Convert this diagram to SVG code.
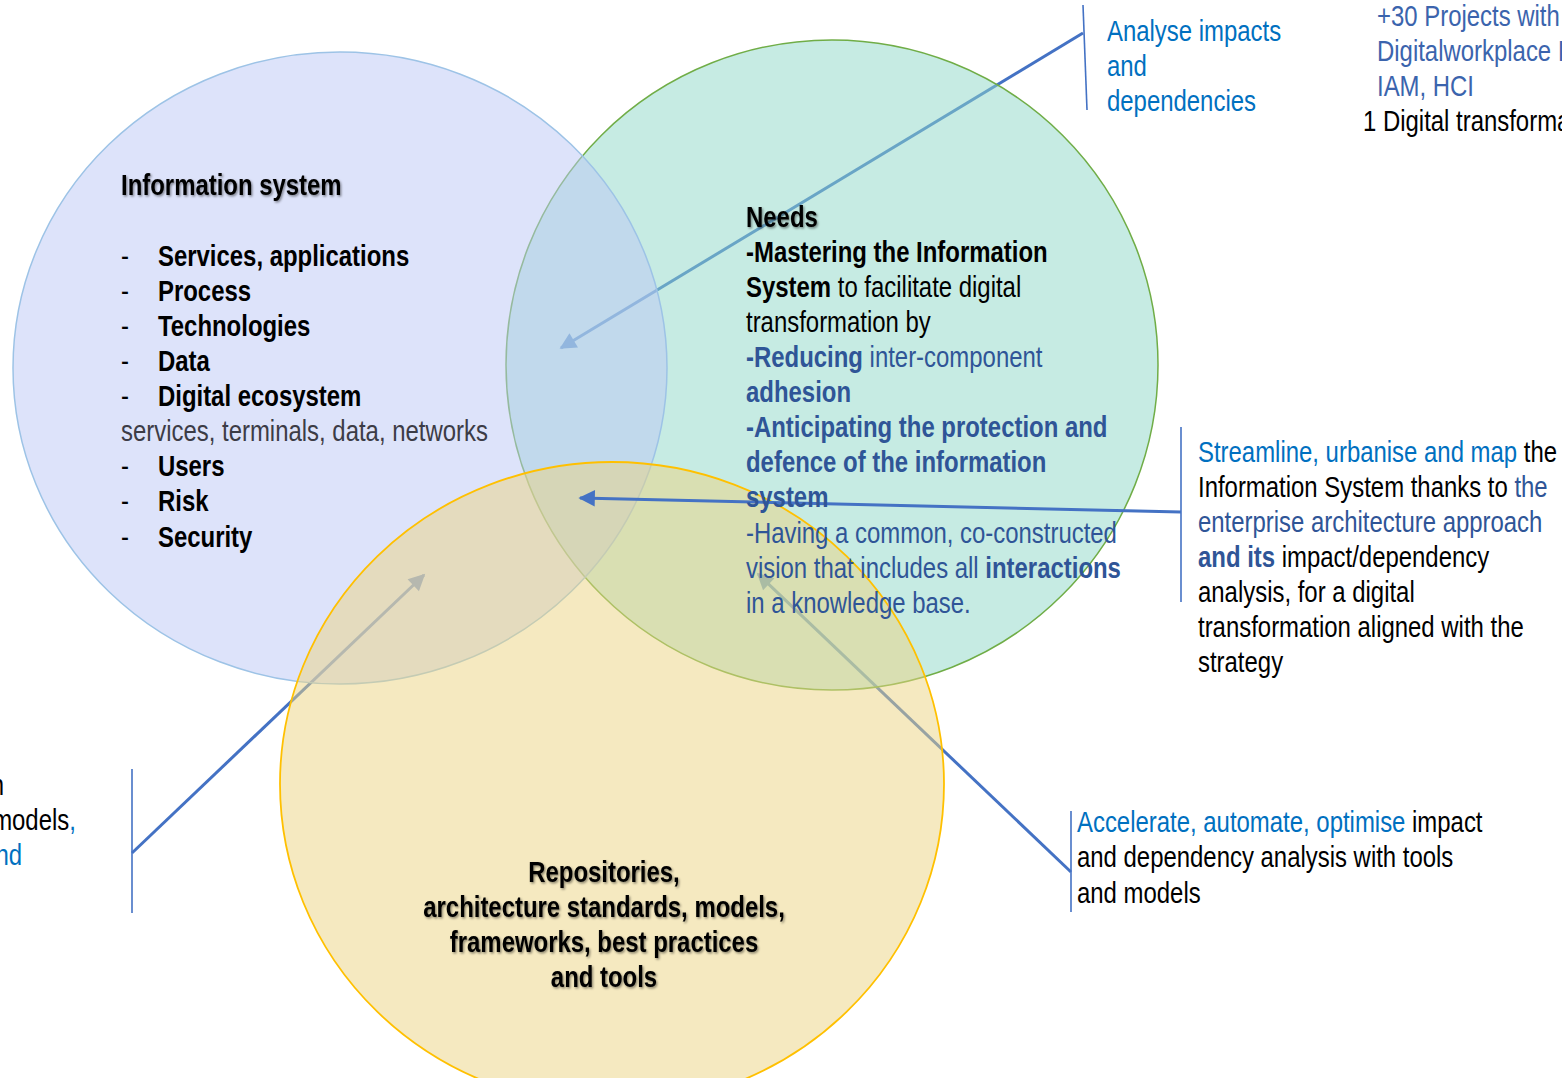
<svg xmlns="http://www.w3.org/2000/svg" width="1562" height="1078" viewBox="0 0 1562 1078">
<style>
text{font-family:"Liberation Sans",Arial,sans-serif;font-size:29px;fill:#000}
.b{font-weight:bold}
.lb{fill:#0070c0}
.db{fill:#2f5597}
.pb{fill:#3b64ad}
.gr{fill:#3c3c46}
.sh{filter:url(#shadow)}
.con{fill:none;stroke:#4472c4;stroke-width:3}
.brk{fill:none;stroke:#4472c4;stroke-width:1.6}
</style>
<defs>
<filter id="shadow" x="-10%" y="-30%" width="120%" height="160%">
<feDropShadow dx="1.5" dy="1.5" stdDeviation="1.2" flood-color="#000" flood-opacity="0.45"/>
</filter>
<marker id="ah" viewBox="0 0 10 10" refX="9" refY="5" markerWidth="6" markerHeight="5.5" orient="auto" markerUnits="strokeWidth">
<path d="M0,0 L10,5 L0,10 z" fill="#4472c4"/>
</marker>
</defs>
<rect width="1562" height="1078" fill="#fff"/>
<g id="connectors-under">
<line class="con" x1="1083" y1="33" x2="561" y2="348" marker-end="url(#ah)"/>
<line class="con" x1="132" y1="853" x2="424" y2="575" marker-end="url(#ah)"/>
<line class="con" x1="1071" y1="872" x2="758" y2="574" marker-end="url(#ah)"/>
</g>
<g id="needs-circle">
<ellipse cx="832" cy="365" rx="326" ry="325" fill="#8dd7c7" fill-opacity="0.5" stroke="#70ad47" stroke-width="1.5"/>
</g>
<g id="information-system-circle">
<ellipse cx="340" cy="368" rx="327" ry="316" fill="#bbc7f5" fill-opacity="0.5" stroke="#9dc3e6" stroke-width="1.5"/>
</g>
<g id="repositories-circle">
<ellipse cx="612" cy="784" rx="332" ry="322" fill="#ebd381" fill-opacity="0.5" stroke="#ffc000" stroke-width="1.8"/>
</g>
<g id="connectors">
<line class="con" x1="1181" y1="512" x2="580" y2="498" marker-end="url(#ah)"/>
<line class="brk" x1="1083" y1="5" x2="1087" y2="110"/>
<line class="brk" x1="1181" y1="427" x2="1181" y2="602"/>
<line class="brk" x1="1071" y1="811" x2="1071" y2="912"/>
<line class="brk" x1="132" y1="769" x2="132" y2="913"/>
</g>
<g id="information-system" transform="matrix(0.825 0 0 1 121 0)">
<text x="0" y="195" class="b sh">Information system</text>
<text x="0" y="266">-</text><text x="44.8" y="266" class="b">Services, applications</text>
<text x="0" y="301">-</text><text x="44.8" y="301" class="b">Process</text>
<text x="0" y="336">-</text><text x="44.8" y="336" class="b">Technologies</text>
<text x="0" y="371">-</text><text x="44.8" y="371" class="b">Data</text>
<text x="0" y="406">-</text><text x="44.8" y="406" class="b">Digital ecosystem</text>
<text x="0" y="441" class="gr">services, terminals, data, networks</text>
<text x="0" y="476">-</text><text x="44.8" y="476" class="b">Users</text>
<text x="0" y="511">-</text><text x="44.8" y="511" class="b">Risk</text>
<text x="0" y="547">-</text><text x="44.8" y="547" class="b">Security</text>
</g>
<g id="needs" transform="matrix(0.825 0 0 1 746 0)">
<text x="0" y="227" class="b sh">Needs</text>
<text x="0" y="262" class="b">-Mastering the Information</text>
<text x="0" y="297"><tspan class="b">System</tspan> to facilitate digital</text>
<text x="0" y="332">transformation by</text>
<text x="0" y="367" class="db"><tspan class="b">-Reducing</tspan> inter-component</text>
<text x="0" y="402" class="db b">adhesion</text>
<text x="0" y="437" class="db b">-Anticipating the protection and</text>
<text x="0" y="472" class="db b">defence of the information</text>
<text x="0" y="507" class="db b">system</text>
<text x="0" y="543" class="db">-Having a common, co-constructed</text>
<text x="0" y="578" class="db">vision that includes all <tspan class="b">interactions</tspan></text>
<text x="0" y="613" class="db">in a knowledge base.</text>
</g>
<g id="repositories" transform="matrix(0.825 0 0 1 604 0)">
<text x="0" y="882" text-anchor="middle" class="b sh">Repositories,</text>
<text x="0" y="917" text-anchor="middle" class="b sh">architecture standards, models,</text>
<text x="0" y="952" text-anchor="middle" class="b sh">frameworks, best practices</text>
<text x="0" y="987" text-anchor="middle" class="b sh">and tools</text>
</g>
<g id="analyse" transform="matrix(0.825 0 0 1 1107 0)">
<text x="0" y="41" class="lb">Analyse impacts</text>
<text x="0" y="76" class="lb">and</text>
<text x="0" y="111" class="lb">dependencies</text>
</g>
<g id="projects" transform="matrix(0.825 0 0 1 1377 0)">
<text x="0" y="26" class="pb">+30 Projects with</text>
<text x="0" y="61" class="pb">Digitalworkplace I</text>
<text x="0" y="96" class="pb">IAM, HCI</text>
<text x="-17" y="131">1 Digital transforma</text>
</g>
<g id="streamline" transform="matrix(0.825 0 0 1 1198 0)">
<text x="0" y="462"><tspan class="lb">Streamline, urbanise and map</tspan> the</text>
<text x="0" y="497">Information System thanks to <tspan class="db">the</tspan></text>
<text x="0" y="532" class="db">enterprise architecture approach</text>
<text x="0" y="567"><tspan class="db b">and its</tspan> impact/dependency</text>
<text x="0" y="602">analysis, for a digital</text>
<text x="0" y="637">transformation aligned with the</text>
<text x="0" y="672">strategy</text>
</g>
<g id="accelerate" transform="matrix(0.825 0 0 1 1077 0)">
<text x="0" y="832"><tspan class="lb">Accelerate, automate, optimise</tspan> impact</text>
<text x="0" y="867">and dependency analysis with tools</text>
<text x="0" y="903">and models</text>
</g>
<g id="left-cut" transform="matrix(0.825 0 0 1 0 0)">
<text x="4.8" y="795" text-anchor="end">n</text>
<text x="92" y="830" text-anchor="end">models<tspan class="lb">,</tspan></text>
<text x="26.7" y="865" text-anchor="end" class="lb">nd</text>
</g>
</svg>
